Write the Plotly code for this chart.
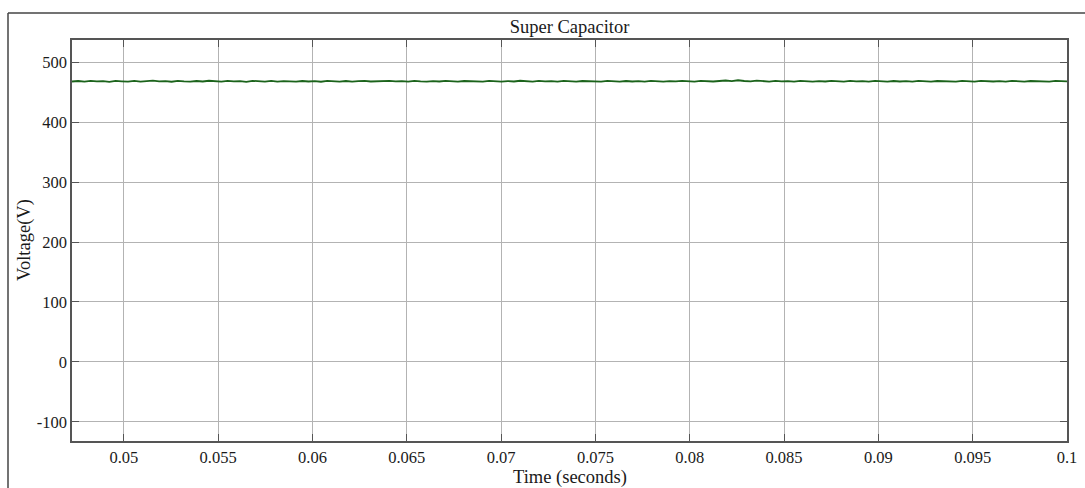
import numpy as np
import plotly.graph_objects as go

# ---- data ----
t_start = 0.04725
t_step = 0.00033
voltage = [
    467.8, 468.6, 467.5, 468.9, 467.9, 468.4, 467.3, 468.7, 468.1, 467.6,
    468.8, 467.7, 468.3, 469.1, 467.9, 468.5, 467.4, 468.9, 468.0, 467.6,
    468.6, 467.8, 469.0, 468.2, 467.5, 468.7, 467.9, 468.4, 467.3, 468.8,
    468.1, 467.7, 468.9, 467.6, 468.3, 468.0, 467.5, 468.6, 467.8, 468.5,
    467.4, 468.8, 468.0, 467.7, 468.6, 467.5, 468.3, 468.9, 467.8, 468.2,
    467.6, 468.7, 467.9, 468.4, 467.5, 468.8, 468.0, 467.6, 468.5, 467.8,
    468.9, 468.1, 467.4, 468.6, 467.9, 468.3, 467.6, 468.8, 468.0, 467.7,
    468.5, 467.8, 469.0, 468.2, 467.6, 468.7, 467.9, 468.4, 467.5, 468.9,
    468.1, 467.7, 468.6, 467.9, 468.3, 467.6, 468.8, 468.0, 467.5, 468.6,
    467.8, 468.4, 467.7, 468.9, 468.2, 467.6, 468.5, 467.9, 468.8, 468.0,
    467.6, 468.7, 468.1, 467.8, 468.6, 469.4, 468.3, 469.8, 468.6, 468.0,
    469.2, 468.1, 467.7, 468.8, 467.9, 468.4, 467.6, 468.9, 468.1, 467.7,
    468.5, 467.8, 468.9, 468.2, 467.5, 468.7, 467.9, 468.4, 467.6, 468.8,
    468.0, 467.7, 468.6, 467.8, 468.4, 467.5, 468.9, 468.1, 467.7, 468.6,
    467.9, 468.3, 467.5, 468.8, 468.0, 467.6, 468.7, 468.2, 467.8, 468.5,
    467.6, 468.9, 468.1, 467.7, 468.6, 467.9, 468.4, 467.6, 468.8, 468.1,
    467.8,
]
x_ticks = [0.05, 0.055, 0.06, 0.065, 0.07, 0.075, 0.08, 0.085, 0.09, 0.095, 0.1]
x_tick_labels = ["0.05", "0.055", "0.06", "0.065", "0.07", "0.075", "0.08",
                 "0.085", "0.09", "0.095", "0.1"]
y_ticks = [-100, 0, 100, 200, 300, 400, 500]
y_tick_labels = ["-100", "0", "100", "200", "300", "400", "500"]

time = t_start + t_step * np.arange(len(voltage))

FONT = "Liberation Serif"
TXT = "#1a1a1a"

fig = go.Figure()
fig.add_trace(go.Scatter(x=time, y=voltage, mode="lines",
                         line=dict(color="#1b631b", width=1.8),
                         showlegend=False, hoverinfo="skip"))

axis_common = dict(
    showline=True, linecolor="#555555", linewidth=1.5, mirror="ticks",
    ticks="inside", ticklen=7, tickcolor="#555555", tickwidth=1.2,
    showgrid=True, gridcolor="#b3b3b3", gridwidth=1, zeroline=False,
    tickfont=dict(family=FONT, size=16.5, color=TXT), automargin=False,
)

fig.update_xaxes(range=[0.04725, 0.1], tickvals=x_ticks, ticktext=x_tick_labels,
                 ticklabelstandoff=0, **axis_common)
fig.update_yaxes(range=[-132, 537], tickvals=y_ticks, ticktext=y_tick_labels,
                 **axis_common)

W, H = 1085, 488
L, R, T, B = 72, 18, 40, 47
pw, ph = W - L - R, H - T - B

def px(xp):
    return (xp - L) / pw

def py(yp):
    return (H - B - yp) / ph

fig.update_layout(
    width=W, height=H,
    margin=dict(l=L, r=R, t=T, b=B, autoexpand=False),
    paper_bgcolor="white", plot_bgcolor="white",
    title=dict(text="Super Capacitor", x=0.5, xref="paper", xanchor="center",
               y=1 - 27 / H, yanchor="middle",
               font=dict(family=FONT, size=18.5, color=TXT)),
    annotations=[
        dict(text="Time (seconds)", xref="paper", yref="paper", x=0.5, y=py(477),
             xanchor="center", yanchor="middle", showarrow=False,
             font=dict(family=FONT, size=18.5, color=TXT)),
        dict(text="Voltage(V)", xref="paper", yref="paper", x=px(24), y=py(240),
             xanchor="center", yanchor="middle", showarrow=False, textangle=-90,
             font=dict(family=FONT, size=18.5, color=TXT)),
    ],
    shapes=[
        dict(type="line", xref="paper", yref="paper",
             x0=px(8), x1=px(1085), y0=py(13), y1=py(13),
             line=dict(color="#444444", width=1.5)),
        dict(type="line", xref="paper", yref="paper",
             x0=px(8), x1=px(8), y0=py(13), y1=py(500),
             line=dict(color="#444444", width=1.5)),
    ],
)

fig.write_html("out.html")
